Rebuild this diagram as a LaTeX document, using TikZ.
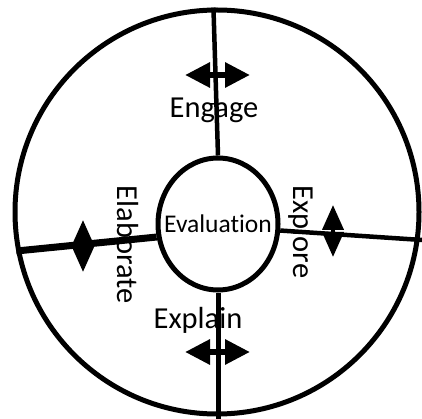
\documentclass[tikz,border=0pt]{standalone}
\usepackage{fontspec}
\setmainfont[Ligatures=NoCommon]{Carlito}
\usetikzlibrary{shapes.geometric,arrows.meta}

\begin{document}
\begin{tikzpicture}[
    x=1pt,y=-1pt,
    every node/.style={font=\fontsize{30.5}{36}\selectfont,inner sep=0pt},
    ring/.style={draw,circle,line width=5pt,minimum size=404pt},
    core/.style={draw,ellipse,line width=5pt,minimum width=120pt,minimum height=132pt},
    spoke/.style={line width=4.5pt},
    swap/.style={{Triangle[length=25pt,width=24pt]}-{Triangle[length=25pt,width=24pt]},line width=6pt},
    swapv/.style={{Triangle[length=25pt,width=21pt]}-{Triangle[length=25pt,width=21pt]},line width=4pt}
]
\useasboundingbox (0,0) rectangle (422,419);

% Outer cycle and centre
\node[ring] (cycle) at (217,212) {};
\node[core] (eval)  at (218,224) {};
\node[font=\fontsize{25.5}{30}\selectfont] (evaltext) at (eval.center) {Evaluation};

% Free ends of the spokes
\coordinate (bottomend) at (218,419);
\coordinate (rightend)  at (422,240);

% Spokes
\draw[spoke]                (cycle.91)  -- (eval.north);
\draw[spoke,line width=7pt] (cycle.191) -- (eval.192);
\draw[spoke]                (eval.354)  -- (rightend);
\draw[spoke,line width=5pt] (eval.south) -- (bottomend);

% Phase labels
\node (engage)    at (214,110) {Engage};
\node (explain)   at (198,320) {Explain};
\node[rotate=-90] (elaborate) at (128,245) {Elaborate};
\node[rotate=-90] (explore)   at (302,232) {Explore};

% Two-way arrows
\coordinate (engL) at (185,75);  \coordinate (engR) at (250,75);
\coordinate (expL) at (185,352); \coordinate (expR) at (250,352);
\coordinate (elaT) at (83,220);  \coordinate (elaB) at (83,272);
\coordinate (expT) at (333,205); \coordinate (expB) at (333,257);

\draw[swap]  (engL) -- (engR);
\draw[swap]  (expL) -- (expR);
\draw[swapv] (elaT) -- (elaB);
\draw[swapv] (expT) -- (expB);

\end{tikzpicture}
\end{document}
